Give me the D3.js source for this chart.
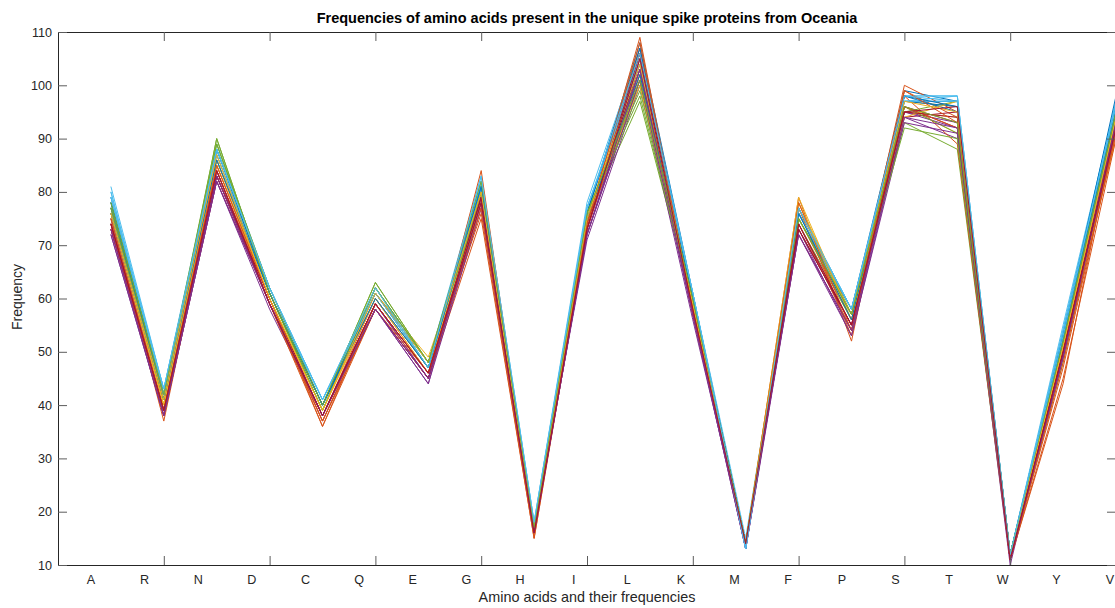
<!DOCTYPE html>
<html>
<head>
<meta charset="utf-8">
<script src="https://cdn.jsdelivr.net/npm/d3@7"></script>
<style>
  html, body { margin: 0; padding: 0; background: #fff; overflow: hidden; }
  svg { display: block; font-family: "Liberation Sans", Arial, Helvetica, sans-serif; }
</style>
</head>
<body>
<svg id="chart" width="1115" height="608"></svg>
<script>
// Amino acid order along the x axis
const aminoAcids = ["A","R","N","D","C","Q","E","G","H","I","L","K","M","F","P","S","T","W","Y","V"];

// Count of each amino acid, one row per unique spike protein
const frequencies = [
  [79,42,88,62,40,62,48,82,17,76,108,61,14,77,58,99,97,12,54,97],
  [76,40,85,60,38,60,46,79,16,74,105,59,14,75,56,100,95,11,51,94],
  [77,41,86,61,39,61,47,80,17,75,106,60,14,76,57,97,96,12,52,95],
  [74,39,83,59,38,59,45,78,16,73,103,58,13,73,55,95,93,11,50,93],
  [76,41,90,61,40,63,48,81,17,75,97,59,14,74,56,93,88,11,48,92],
  [81,43,89,62,41,62,48,83,18,78,107,61,15,77,58,98,98,12,53,96],
  [73,38,82,59,37,58,45,77,16,72,102,57,14,72,54,96,92,11,49,91],
  [78,42,87,61,40,61,47,81,17,76,106,60,13,76,57,97,97,12,53,96],
  [75,37,84,60,36,59,46,76,15,74,109,58,14,79,52,99,94,11,44,93],
  [75,40,85,60,39,61,49,78,16,74,101,59,14,78,57,96,91,12,50,90],
  [72,38,82,58,38,58,44,80,17,71,100,56,14,73,53,94,90,10,51,95],
  [77,41,88,61,39,62,48,79,17,76,99,60,14,75,58,95,97,12,52,94],
  [80,43,88,62,41,61,47,82,17,77,104,61,13,76,57,98,98,12,54,97],
  [74,39,84,59,38,59,46,78,16,74,105,58,14,74,55,94,95,11,50,93],
  [77,42,86,61,40,60,47,81,17,75,103,60,14,76,58,97,96,12,53,96],
  [73,38,83,59,37,58,45,75,15,73,107,57,14,77,53,98,89,11,47,91],
  [76,40,86,60,39,60,46,79,16,75,102,59,14,78,56,95,94,11,51,92],
  [75,39,84,59,38,59,45,79,17,72,101,57,13,74,54,95,92,11,49,94],
  [78,42,89,62,40,62,47,80,17,76,100,60,14,75,57,96,91,12,52,95],
  [79,43,87,61,41,61,48,82,18,77,105,61,13,77,58,97,97,12,55,97],
  [73,39,83,59,38,58,45,79,16,73,104,58,14,73,55,96,93,11,50,92],
  [78,41,88,61,40,61,48,81,17,76,107,60,14,77,57,98,95,12,53,98],
  [74,38,84,59,36,58,46,84,16,73,103,57,14,74,54,96,92,11,45,90],
  [76,40,86,60,39,60,47,78,16,75,100,59,14,79,56,94,97,12,51,93],
  [72,38,82,59,38,58,44,77,16,72,101,57,13,72,53,93,91,11,49,92],
  [77,41,89,61,39,62,48,80,17,76,98,59,14,75,57,92,90,12,52,94],
  [80,42,88,62,41,61,47,81,17,77,104,61,13,76,58,97,98,12,54,96],
  [74,39,83,60,38,59,46,79,16,73,106,58,14,73,55,95,94,11,50,93],
  [76,41,86,61,40,60,47,81,17,75,102,60,14,76,56,98,96,12,52,95],
  [75,39,85,60,37,59,46,77,16,74,108,58,14,78,54,99,93,11,48,91],
  [76,41,87,60,39,61,48,80,17,75,104,59,14,77,57,97,95,12,51,94],
  [73,38,83,59,38,58,45,78,16,72,103,57,14,72,54,94,92,11,49,93],
  [78,42,90,61,40,63,48,82,17,76,101,60,14,75,57,96,93,12,52,95],
  [79,43,88,62,41,62,47,83,18,77,106,61,13,77,58,98,97,12,53,97],
  [74,39,84,59,38,59,46,78,16,73,105,58,14,74,55,95,96,11,50,92]
];

// Axis tick values
const xTickValues = [0,2,4,6,8,10,12,14,16,18,20];
const yTickValues = [10,20,30,40,50,60,70,80,90,100,110];

// Default line colour order
const lineColors = ["#0072BD","#D95319","#EDB120","#7E2F8E","#77AC30","#4DBEEE","#A2142F"];

const titleText = "Frequencies of amino acids present in the unique spike proteins from Oceania";
const xTitle = "Amino acids and their frequencies";
const yTitle = "Frequency";

const svg = d3.select("#chart");
const W = 1115, H = 608;
const plot = { left: 58, right: 1116, top: 32, bottom: 565 };

svg.append("rect").attr("width", W).attr("height", H).attr("fill", "#fff");

const x = d3.scaleLinear().domain([0, 20]).range([plot.left, plot.right]);
const y = d3.scaleLinear().domain([10, 110]).range([plot.bottom, plot.top]);
// Category labels are spread evenly below the axis
const labelPos = d3.scalePoint().domain(aminoAcids).range([91, 1110]);

const axisColor = "#262626";
const tickColor = "#5c5c5c";
const tickLen = 9;
const fontFamily = "'Liberation Sans', Arial, sans-serif";

// Data lines
const line = d3.line()
  .x((d, i) => x(i + 1))
  .y(d => y(d));

svg.append("g")
  .selectAll("path")
  .data(frequencies)
  .join("path")
  .attr("d", d => line(d))
  .attr("fill", "none")
  .attr("stroke", (d, i) => lineColors[i % lineColors.length])
  .attr("stroke-width", 1)
  .attr("stroke-linejoin", "miter");

// Box axes with inward ticks
const xAxisBottom = d3.axisBottom(x).tickValues(xTickValues).tickSize(-tickLen).tickFormat("");
const xAxisTop = d3.axisTop(x).tickValues(xTickValues).tickSize(-tickLen).tickFormat("");
const yAxisLeft = d3.axisLeft(y).tickValues(yTickValues).tickSize(-tickLen).tickPadding(6);
const yAxisRight = d3.axisRight(y).tickValues(yTickValues).tickSize(-tickLen).tickFormat("");

function styleAxis(g) {
  g.select(".domain").attr("stroke", axisColor).attr("stroke-width", 1);
  g.selectAll(".tick line").attr("stroke", tickColor).attr("stroke-width", 1);
  g.selectAll(".tick text")
    .attr("fill", axisColor)
    .style("font-size", "12.6px")
    .style("font-family", fontFamily);
}

svg.append("g").attr("transform", `translate(0,${plot.bottom})`).call(xAxisBottom).call(styleAxis);
svg.append("g").attr("transform", `translate(0,${plot.top})`).call(xAxisTop).call(styleAxis);
svg.append("g").attr("transform", `translate(${plot.left},0)`).call(yAxisLeft).call(styleAxis);
svg.append("g").attr("transform", `translate(${plot.right},0)`).call(yAxisRight).call(styleAxis);

// Amino acid labels
svg.append("g")
  .selectAll("text")
  .data(aminoAcids)
  .join("text")
  .attr("x", d => labelPos(d))
  .attr("y", 584)
  .attr("text-anchor", "middle")
  .attr("fill", axisColor)
  .style("font-size", "12.6px")
  .style("font-family", fontFamily)
  .text(d => d);

// Title
svg.append("text")
  .attr("x", 587)
  .attr("y", 23)
  .attr("text-anchor", "middle")
  .attr("fill", "#000")
  .style("font-size", "14.5px")
  .style("font-weight", "bold")
  .style("font-family", fontFamily)
  .text(titleText);

// Axis titles
svg.append("text")
  .attr("x", 587)
  .attr("y", 602)
  .attr("text-anchor", "middle")
  .attr("fill", axisColor)
  .style("font-size", "14.4px")
  .style("font-family", fontFamily)
  .text(xTitle);

svg.append("text")
  .attr("transform", "translate(22,297) rotate(-90)")
  .attr("text-anchor", "middle")
  .attr("fill", axisColor)
  .style("font-size", "14px")
  .style("font-family", fontFamily)
  .text(yTitle);
</script>
</body>
</html>
